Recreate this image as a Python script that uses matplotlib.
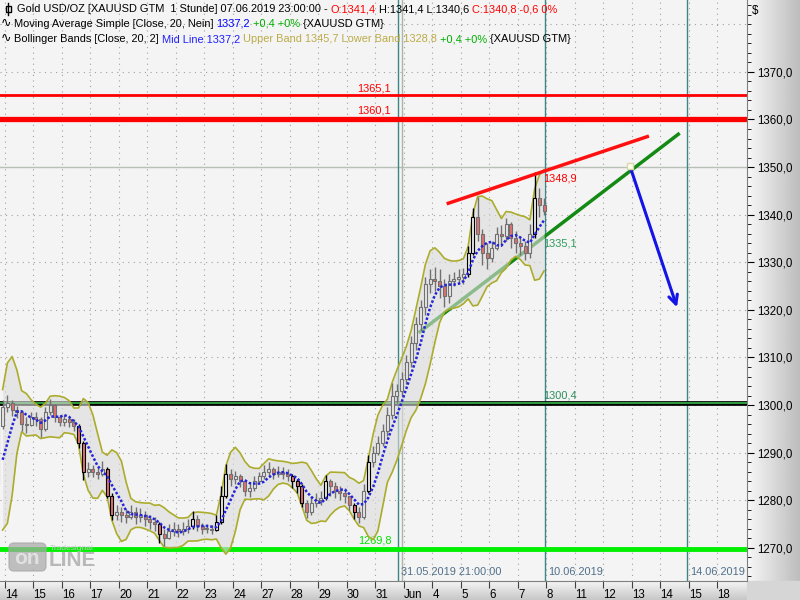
import numpy as np
import pandas as pd
import matplotlib
matplotlib.use("Agg")
import matplotlib.pyplot as plt
from matplotlib.patches import FancyBboxPatch, Rectangle
from matplotlib.transforms import ScaledTranslation

plt.rcParams['font.family'] = ['Liberation Sans', 'DejaVu Sans']

BARS_PER_DAY = 6   # 4-hour bars
WINDOW = 5         # ~20 hours

day_labels = ["14", "15", "16", "17", "20", "21", "22", "23", "24", "27", "28", "29", "30", "31",
              "Jun", "4", "5", "6", "7", "8", "11", "12", "13", "14", "15", "18"]

# 13 May, last bars (warm-up for the indicators, mostly left of the chart)
pre_close = [1283.0, 1281.0, 1283.5, 1295.5, 1299.5]
pre_high = [1285.0, 1284.0, 1285.0, 1297.0, 1301.0]
pre_low = [1281.0, 1279.5, 1280.5, 1283.0, 1295.0]

# 14 May .. 7 Jun, six bars per day
close_days = [
    [1300.5, 1299.0, 1298.5, 1296.0, 1295.8, 1297.5],
    [1297.0, 1295.0, 1298.5, 1300.0, 1297.5, 1296.5],
    [1297.0, 1296.5, 1295.5, 1292.0, 1286.0, 1286.5],
    [1286.0, 1285.5, 1286.5, 1281.0, 1277.0, 1277.5],
    [1277.0, 1276.5, 1277.5, 1276.5, 1277.0, 1276.0],
    [1275.5, 1275.0, 1273.0, 1272.0, 1273.5, 1274.0],
    [1273.5, 1274.0, 1274.5, 1276.0, 1274.5, 1274.0],
    [1274.0, 1273.8, 1275.5, 1281.0, 1285.5, 1284.5],
    [1285.0, 1284.0, 1282.0, 1282.5, 1284.0, 1285.0],
    [1286.0, 1286.5, 1285.5, 1286.0, 1285.5, 1285.0],
    [1284.0, 1283.0, 1279.5, 1277.5, 1279.5, 1280.0],
    [1280.5, 1284.0, 1283.0, 1282.0, 1281.5, 1281.0],
    [1279.0, 1277.5, 1276.5, 1282.0, 1288.0, 1290.0],
    [1292.0, 1294.5, 1298.0, 1302.0, 1303.0, 1305.5],
    [1309.0, 1313.0, 1317.0, 1320.5, 1325.5, 1326.5],
    [1326.0, 1325.0, 1323.0, 1326.0, 1326.5, 1327.0],
    [1327.5, 1332.0, 1339.5, 1336.0, 1332.0, 1331.0],
    [1333.0, 1336.0, 1335.5, 1338.0, 1335.0, 1334.0],
    [1333.5, 1332.0, 1336.0, 1343.5, 1342.0, 1340.8],
]
high_days = [
    [1302.2, 1301.0, 1299.8, 1298.8, 1297.5, 1298.5],
    [1298.5, 1297.5, 1299.5, 1301.2, 1300.2, 1298.0],
    [1298.0, 1297.8, 1297.0, 1296.0, 1292.5, 1288.0],
    [1287.4, 1287.0, 1288.2, 1287.0, 1281.5, 1279.0],
    [1278.6, 1278.2, 1279.0, 1278.5, 1278.3, 1277.8],
    [1277.0, 1276.5, 1275.5, 1274.0, 1275.0, 1275.5],
    [1275.0, 1275.5, 1276.0, 1277.8, 1277.0, 1275.2],
    [1275.0, 1274.8, 1277.0, 1283.0, 1287.6, 1286.5],
    [1286.2, 1285.5, 1284.5, 1283.8, 1285.0, 1286.0],
    [1287.5, 1288.0, 1287.0, 1287.2, 1287.0, 1286.5],
    [1285.5, 1284.5, 1283.5, 1280.0, 1281.0, 1281.6],
    [1282.0, 1285.4, 1284.5, 1283.8, 1283.0, 1282.5],
    [1281.0, 1279.5, 1278.5, 1283.5, 1289.5, 1291.5],
    [1293.5, 1296.0, 1299.5, 1304.7, 1304.5, 1307.0],
    [1310.5, 1314.5, 1318.5, 1322.0, 1327.0, 1328.5],
    [1329.0, 1328.5, 1326.5, 1327.5, 1328.0, 1328.5],
    [1328.8, 1333.5, 1341.5, 1343.8, 1337.0, 1334.0],
    [1334.5, 1337.5, 1337.8, 1339.2, 1338.5, 1336.5],
    [1335.5, 1334.5, 1338.0, 1348.9, 1345.5, 1343.5],
]
low_days = [
    [1298.5, 1297.8, 1297.2, 1294.5, 1294.2, 1295.5],
    [1295.5, 1293.3, 1294.5, 1298.0, 1296.5, 1295.5],
    [1295.5, 1295.3, 1294.5, 1291.0, 1284.3, 1284.8],
    [1284.8, 1284.5, 1285.0, 1280.5, 1275.8, 1275.8],
    [1275.5, 1275.2, 1276.0, 1275.0, 1275.5, 1274.5],
    [1274.0, 1273.5, 1271.0, 1270.4, 1271.8, 1272.5],
    [1272.3, 1272.8, 1273.2, 1274.0, 1273.5, 1273.0],
    [1273.2, 1273.0, 1273.5, 1275.0, 1280.5, 1283.0],
    [1283.5, 1282.8, 1280.8, 1280.6, 1282.0, 1283.5],
    [1284.5, 1285.0, 1284.5, 1284.8, 1284.5, 1284.0],
    [1282.5, 1281.5, 1278.5, 1276.3, 1277.0, 1278.5],
    [1279.0, 1280.0, 1281.0, 1280.5, 1280.0, 1279.5],
    [1278.0, 1276.0, 1275.3, 1276.0, 1281.5, 1287.0],
    [1289.5, 1291.5, 1293.5, 1297.0, 1300.5, 1302.0],
    [1304.5, 1308.0, 1311.5, 1315.5, 1319.0, 1323.5],
    [1324.0, 1322.5, 1320.6, 1321.5, 1325.0, 1325.5],
    [1325.5, 1327.0, 1331.5, 1334.5, 1329.5, 1328.5],
    [1330.0, 1332.5, 1333.5, 1334.5, 1333.0, 1332.0],
    [1331.5, 1330.5, 1331.0, 1335.0, 1339.5, 1340.0],
]

support_resist = [1365.1, 1360.1, 1300.4, 1269.8]
red_trend = [(15.555, 1342.4), (22.537, 1356.4)]
green_trend = [(14.561, 1315.4), (23.625, 1356.9)]
blue_arrow = [(21.93, 1350.15), (23.61, 1320.0)]
marker_days = [13.79, 18.95, 23.93]

close = np.array(pre_close + sum(close_days, []))
high = np.array(pre_high + sum(high_days, []))
low = np.array(pre_low + sum(low_days, []))
opens = np.r_[close[0], close[:-1]]
n_pre = len(pre_close)
x = (np.arange(len(close)) - n_pre + 0.5) / BARS_PER_DAY

# moving average / bollinger
s = pd.Series(close)
mid = s.rolling(WINDOW).mean()
pool = pd.DataFrame({'c': close, 'h': high, 'l': low})
sd = pd.Series([pool.iloc[max(0, i - WINDOW + 1):i + 1].values.std() for i in range(len(close))])
upper = mid + 2 * sd
lower = mid - 2 * sd

fig = plt.figure(figsize=(8, 6), dpi=100, facecolor='#f4f4f4')

# background panels (axis strips)
bg = fig.add_axes([0, 0, 1, 1])
bg.set_xlim(0, 800)
bg.set_ylim(600, 0)
bg.axis('off')
grad = np.linspace(0.97, 0.74, 64)
bg.imshow(grad[None, :], cmap='gray', vmin=0, vmax=1, extent=(747, 800, 581, 0), aspect='auto')
bg.imshow(np.linspace(0.96, 0.78, 32)[:, None], cmap='gray', vmin=0, vmax=1,
          extent=(0, 747, 600, 581), aspect='auto')
bg.add_patch(Rectangle((747, 581), 53, 19, color='#d6d6d6'))
bg.set_xlim(0, 800)
bg.set_ylim(600, 0)

ax = fig.add_axes([0, 19 / 600, 747 / 800, 581 / 600])
ax.set_facecolor('#f4f4f4')
ax.set_xlim(-5 / 28.5, 742 / 28.5)
ax.set_ylim(1263.04, 1385.1)

for d in range(len(day_labels)):
    ax.axvline(d, color='#a0a0a0', lw=0.8, ls=(0, (1, 4)), zorder=0)
for p in range(1270, 1390, 10):
    ax.axhline(p, color='#a0a0a0', lw=0.8, ls=(0, (1, 4)), zorder=0)

ax.axhline(1350, color='#b8c0b8', lw=1, zorder=1)
ax.axvline(marker_days[0], color='#3f8585', lw=1, zorder=1)
ax.axvline(13.93, color='#aab6aa', lw=1, zorder=1)
ax.axvline(marker_days[1], color='#3f8585', lw=1, zorder=1)
ax.axvline(marker_days[2], color='#3f8585', lw=1, zorder=1)

ax.axhline(support_resist[0], color='#ff0000', lw=2, zorder=2)
ax.axhline(support_resist[1], color='#ff0000', lw=3.8, zorder=2)
ax.axhline(support_resist[2], color='#000000', lw=3.4, zorder=2)
ax.axhline(support_resist[2], color='#2e9e3e', lw=1.4, zorder=2)
ax.axhline(support_resist[3], color='#00f000', lw=3.5, zorder=2)

ax.plot(*zip(*green_trend), color='#138a13', lw=2.5, zorder=3)

# bollinger bands
ax.fill_between(x, lower, upper, color='#dcdcdc', alpha=0.6, lw=0, zorder=4)
ax.plot(x, upper, color='#acac2c', lw=1.2, zorder=5)
ax.plot(x, lower, color='#acac2c', lw=1.2, zorder=5)

# candles
outside = (high > upper) | (low < lower)
edge = np.where(outside, '#000000', '#707070')
fill = np.where(close < opens, '#e07070', '#e6e6e6')
ax.vlines(x, low, high, colors=edge, lw=1, zorder=6)
body_low = np.minimum(opens, close)
body_h = np.maximum(np.abs(close - opens), 0.2)
ax.bar(x, body_h, bottom=body_low, width=0.11, color=fill, edgecolor=edge, lw=0.8, zorder=7)

ax.plot(x, mid, color='#2424d8', lw=1.8, ls=(0, (1, 0.8)), zorder=8)

ax.plot(*zip(*red_trend), color='#ff1010', lw=2.5, zorder=9)
ax.annotate('', xy=blue_arrow[1], xytext=blue_arrow[0],
            arrowprops=dict(arrowstyle='->', color='#1414e6', lw=2.2, mutation_scale=16), zorder=9)
ax.plot(*blue_arrow[0], 's', ms=4, color='#fffff0', mec='#d8d8a8', zorder=10)

fs = 7.9
ax.text(13.55, support_resist[0] + 0.4, '1365,1', color='#ff0000', ha='right', va='bottom', fontsize=fs)
ax.text(13.55, support_resist[1] + 0.8, '1360,1', color='#ff0000', ha='right', va='bottom', fontsize=fs)
ax.text(18.88, support_resist[2] + 0.5, '1300,4', color='#2f8f5f', ha='left', va='bottom', fontsize=fs)
ax.text(13.58, support_resist[3] + 0.6, '1269,8', color='#00e000', ha='right', va='bottom', fontsize=fs)
ax.text(18.88, 1347.7, '1348,9', color='#ff0000', ha='left', va='center', fontsize=fs)
ax.text(18.88, 1333.9, '1335,1', color='#2a9a5a', ha='left', va='center', fontsize=fs)
ax.text(13.90, 1264.9, '31.05.2019 21:00:00', color='#50708a', ha='left', va='center', fontsize=fs)
ax.text(19.06, 1264.9, '10.06.2019', color='#50708a', ha='left', va='center', fontsize=fs)
ax.text(24.04, 1264.9, '14.06.2019', color='#50708a', ha='left', va='center', fontsize=fs)

# axes
ax.set_xticks(range(len(day_labels)))
ax.set_xticklabels(day_labels, ha='left', fontsize=8.3)
for lab in ax.get_xticklabels():
    lab.set_transform(lab.get_transform() + ScaledTranslation(2 / 72, 0, fig.dpi_scale_trans))
ax.tick_params(axis='x', direction='out', length=5, pad=1, color='#404040')
ax.yaxis.tick_right()
ax.set_yticks(range(1270, 1380, 10))
ax.set_yticklabels([f'{v},0' for v in range(1270, 1380, 10)], fontsize=8.3)
ax.set_yticks(np.arange(1264, 1386, 2), minor=True)
ax.tick_params(axis='y', which='major', direction='out', length=5, pad=2)
ax.tick_params(axis='y', which='minor', direction='out', length=3)
for side in ['top', 'left']:
    ax.spines[side].set_visible(False)
for side in ['right', 'bottom']:
    ax.spines[side].set_color('#808080')

# overlay in pixel coordinates
ov = fig.add_axes([0, 0, 1, 1], zorder=10)
ov.set_xlim(0, 800)
ov.set_ylim(600, 0)
ov.axis('off')
ov.patch.set_alpha(0)
ov.text(752, 11, '$', fontsize=8.3, va='center')

renderer = fig.canvas.get_renderer()


def header(xs, y, parts):
    for txt, col, gap in parts:
        t = ov.text(xs, y, txt, color=col, fontsize=fs, va='center', ha='left')
        bb = t.get_window_extent(renderer)
        xs = bb.x1 + gap


header(17, 9, [("Gold USD/OZ [XAUUSD GTM  1 Stunde] 07.06.2019 23:00:00 -", '#000000', 3),
               ("O:1341,4", '#ff0000', 3), ("H:1341,4 L:1340,6", '#000000', 3),
               ("C:1340,8 -0,6 0%", '#ff0000', 0)])
header(14, 24, [("Moving Average Simple [Close, 20, Nein]", '#000000', 3), ("1337,2", '#0000ff', 3),
                ("+0,4 +0%", '#00b000', 3), ("{XAUUSD GTM}", '#000000', 0)])
header(14, 39, [("Bollinger Bands [Close, 20, 2]", '#000000', 3), ("Mid Line 1337,2", '#2020ff', 3),
                ("Upper Band 1345,7 Lower Band 1328,8", '#bcac48', 3), ("+0,4 +0%", '#00b000', 3),
                ("{XAUUSD GTM}", '#000000', 0)])
ov.plot([8, 8], [3, 15], color='black', lw=1)
ov.add_patch(Rectangle((5.5, 6), 5, 6, facecolor='white', edgecolor='black', lw=1))
ov.text(1, 24, '∿', fontsize=9, va='center')
ov.text(1, 39, '∿', fontsize=9, va='center')

# watermark
ov.add_patch(FancyBboxPatch((9, 543), 37, 28, boxstyle='round,pad=0,rounding_size=5',
                            color='#a8a8a8', alpha=0.7))
ov.text(27, 558, 'on', fontsize=15, fontweight='bold', color='#e6e6e6', ha='center', va='center', alpha=0.9)
ov.text(49, 561, 'LINE', fontsize=15, fontweight='bold', color='#aaaaaa', ha='left', va='center', alpha=0.8)
ov.text(50, 548, 'Tradesignal', fontsize=6, color='#c4c4c4', ha='left', va='center')

fig.savefig('out.png', dpi=100, facecolor=fig.get_facecolor())
